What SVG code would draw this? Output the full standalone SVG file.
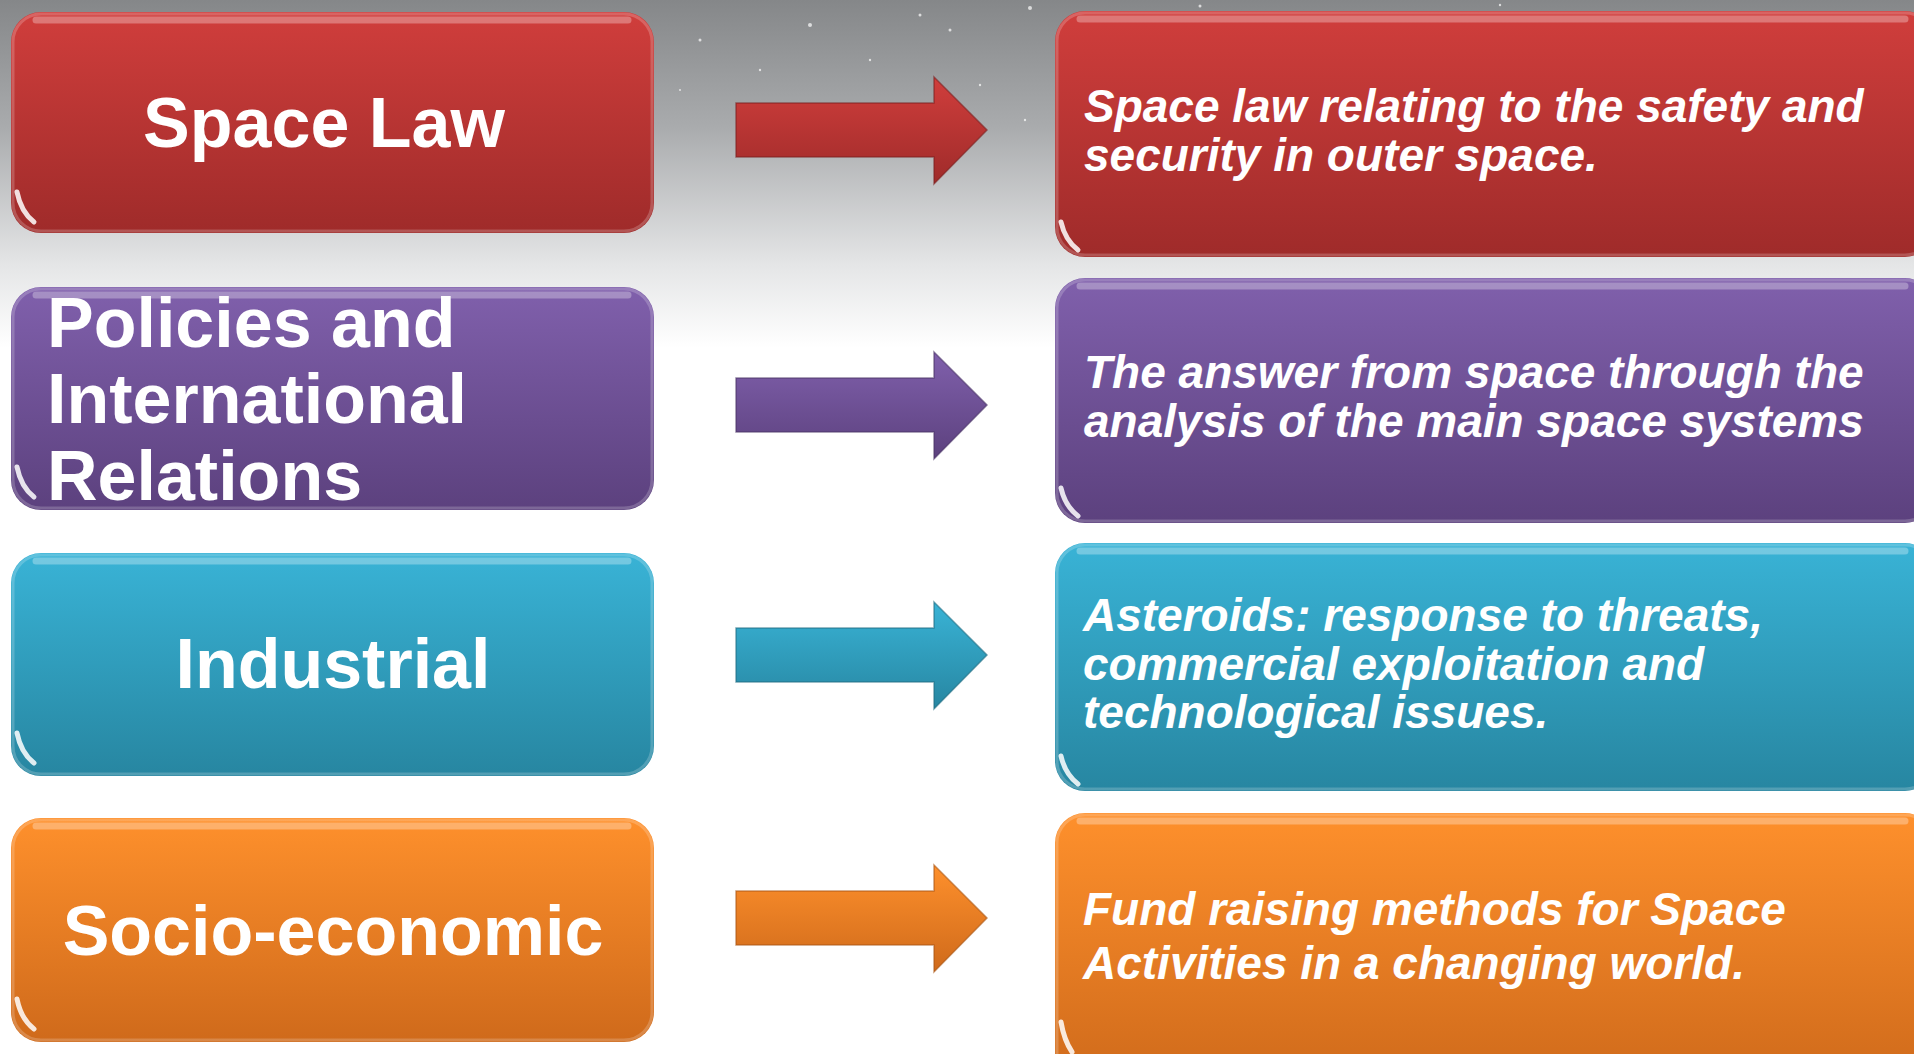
<svg xmlns="http://www.w3.org/2000/svg" width="1914" height="1054" viewBox="0 0 1914 1054">
<defs>
<linearGradient id="bg" x1="0" y1="0" x2="0" y2="1">
<stop offset="0" stop-color="#858789"/>
<stop offset="0.12" stop-color="#a9abad"/>
<stop offset="0.25" stop-color="#e4e5e6"/>
<stop offset="0.33" stop-color="#ffffff"/>
<stop offset="1" stop-color="#ffffff"/>
</linearGradient>
<linearGradient id="gRed" x1="0" y1="0" x2="0" y2="1">
<stop offset="0" stop-color="#d03e3c"/>
<stop offset="1" stop-color="#9f2b2a"/>
</linearGradient>
<linearGradient id="gPur" x1="0" y1="0" x2="0" y2="1">
<stop offset="0" stop-color="#8060ac"/>
<stop offset="1" stop-color="#5c417e"/>
</linearGradient>
<linearGradient id="gTeal" x1="0" y1="0" x2="0" y2="1">
<stop offset="0" stop-color="#39b3d6"/>
<stop offset="1" stop-color="#2786a1"/>
</linearGradient>
<linearGradient id="gOra" x1="0" y1="0" x2="0" y2="1">
<stop offset="0" stop-color="#fe902c"/>
<stop offset="1" stop-color="#cf6a1b"/>
</linearGradient>
</defs>
<style>
.lbl{font-family:"Liberation Sans",Arial,sans-serif;font-weight:bold;font-size:70px;fill:#ffffff}
.desc{font-family:"Liberation Sans",Arial,sans-serif;font-weight:bold;font-style:italic;font-size:46px;fill:#ffffff}
.hl{fill:none;stroke:#ffffff;stroke-opacity:0.3;stroke-width:7;stroke-linecap:round}
.edge{fill:none;stroke:#ffffff;stroke-opacity:0.2;stroke-width:3}
.glint{fill:none;stroke:#ffffff;stroke-opacity:0.85;stroke-width:5;stroke-linecap:round}
.arr{stroke-width:1.5;stroke-opacity:0.6}
</style>
<rect x="0" y="0" width="1914" height="1054" fill="url(#bg)"/>
<g id="stars" fill="#ffffff" opacity="0.7">
<circle cx="700" cy="40" r="1.5"/><circle cx="810" cy="25" r="2"/><circle cx="870" cy="60" r="1.2"/><circle cx="950" cy="30" r="1.5"/><circle cx="1030" cy="8" r="2"/><circle cx="760" cy="70" r="1.2"/><circle cx="980" cy="85" r="1.2"/><circle cx="920" cy="15" r="1.5"/><circle cx="1200" cy="6" r="1.5"/><circle cx="1500" cy="5" r="1.2"/><circle cx="680" cy="90" r="1"/><circle cx="1025" cy="120" r="1.2"/>
</g>

<g id="connectors">
<path class="arr" fill="url(#gRed)" stroke="#7a2020" d="M736 103 H934 V77 L987 130 L934 184 V157 H736 Z"/>
<path class="arr" fill="url(#gPur)" stroke="#4a3466" d="M736 378 H934 V352 L987 405 L934 459 V432 H736 Z"/>
<path class="arr" fill="url(#gTeal)" stroke="#1f6a80" d="M736 628 H934 V602 L987 655 L934 709 V682 H736 Z"/>
<path class="arr" fill="url(#gOra)" stroke="#a85514" d="M736 891 H934 V865 L987 918 L934 972 V945 H736 Z"/>
</g>

<g id="n-spacelaw">
<rect x="11" y="12" width="643" height="221" rx="30" fill="url(#gRed)"/>
<rect x="13" y="14" width="639" height="217" rx="28" class="edge"/>
<path class="hl" d="M36 20 H628"/>
<path class="glint" d="M17 192 Q21 212 34 222"/>
<text class="lbl" x="324" y="147" text-anchor="middle">Space Law</text>
</g>

<g id="n-policies">
<rect x="11" y="287" width="643" height="223" rx="30" fill="url(#gPur)"/>
<rect x="13" y="289" width="639" height="219" rx="28" class="edge"/>
<path class="hl" d="M36 295 H628"/>
<path class="glint" d="M17 467 Q21 487 34 497"/>
<text class="lbl" x="47" y="347">Policies and</text>
<text class="lbl" x="47" y="423">International</text>
<text class="lbl" x="47" y="500">Relations</text>
</g>

<g id="n-industrial">
<rect x="11" y="553" width="643" height="223" rx="30" fill="url(#gTeal)"/>
<rect x="13" y="555" width="639" height="219" rx="28" class="edge"/>
<path class="hl" d="M36 561 H628"/>
<path class="glint" d="M17 733 Q21 753 34 763"/>
<text class="lbl" x="333" y="688" text-anchor="middle">Industrial</text>
</g>

<g id="n-socio">
<rect x="11" y="818" width="643" height="224" rx="30" fill="url(#gOra)"/>
<rect x="13" y="820" width="639" height="220" rx="28" class="edge"/>
<path class="hl" d="M36 826 H628"/>
<path class="glint" d="M17 999 Q21 1019 34 1029"/>
<text class="lbl" x="333" y="955" text-anchor="middle">Socio-economic</text>
</g>

<g id="n-desc1">
<rect x="1055" y="11" width="880" height="246" rx="30" fill="url(#gRed)"/>
<rect x="1057" y="13" width="876" height="242" rx="28" class="edge"/>
<path class="hl" d="M1080 19 H1905"/>
<path class="glint" d="M1061 222 Q1065 240 1078 250"/>
<text class="desc" x="1084" y="122">Space law relating to the safety and</text>
<text class="desc" x="1084" y="171">security in outer space.</text>
</g>

<g id="n-desc2">
<rect x="1055" y="278" width="880" height="245" rx="30" fill="url(#gPur)"/>
<rect x="1057" y="280" width="876" height="241" rx="28" class="edge"/>
<path class="hl" d="M1080 286 H1905"/>
<path class="glint" d="M1061 488 Q1065 506 1078 516"/>
<text class="desc" x="1084" y="388">The answer from space through the</text>
<text class="desc" x="1084" y="437">analysis of the main space systems</text>
</g>

<g id="n-desc3">
<rect x="1055" y="543" width="880" height="248" rx="30" fill="url(#gTeal)"/>
<rect x="1057" y="545" width="876" height="244" rx="28" class="edge"/>
<path class="hl" d="M1080 551 H1905"/>
<path class="glint" d="M1061 756 Q1065 774 1078 784"/>
<text class="desc" x="1083" y="631">Asteroids: response to threats,</text>
<text class="desc" x="1083" y="680">commercial exploitation and</text>
<text class="desc" x="1083" y="728">technological issues.</text>
</g>

<g id="n-desc4">
<rect x="1055" y="813" width="880" height="270" rx="30" fill="url(#gOra)"/>
<rect x="1057" y="815" width="876" height="266" rx="28" class="edge"/>
<path class="hl" d="M1080 821 H1905"/>
<path class="glint" d="M1061 1022 Q1064 1040 1072 1052"/>
<text class="desc" x="1083" y="925">Fund raising methods for Space</text>
<text class="desc" x="1083" y="979">Activities in a changing world.</text>
</g>
</svg>
